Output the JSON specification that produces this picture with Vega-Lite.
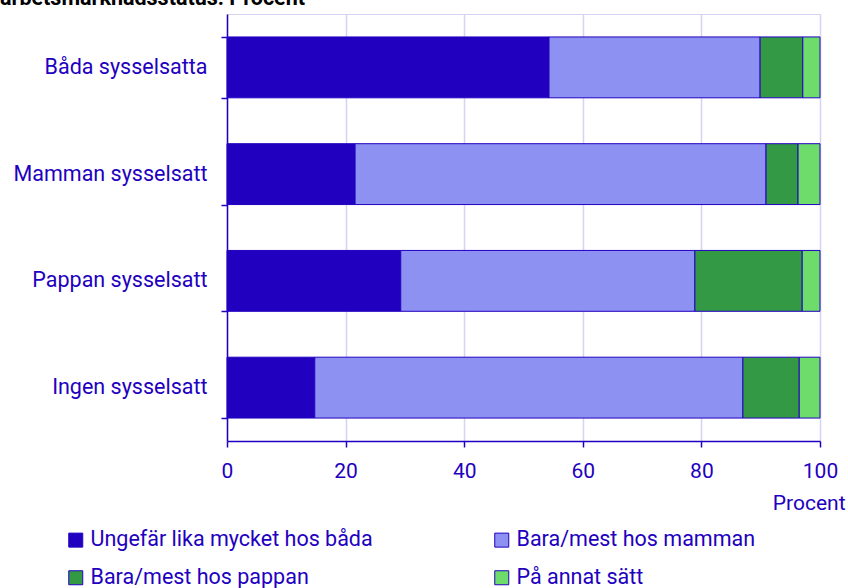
{
  "$schema": "https://vega.github.io/schema/vega-lite/v6.json",
  "width": 593,
  "height": 427,
  "autosize": {"type": "none"},
  "padding": {"left": 227, "top": 14, "right": 28, "bottom": 147},
  "background": "white",
  "config": {"font": "Roboto", "view": {"stroke": "#d4d4f2"}},
  "title": {"text": "arbetsmarknadsstatus. Procent", "anchor": "start", "frame": "group", "fontSize": 21.5, "fontWeight": "bold", "color": "#000000", "dx": -227, "dy": 23, "baseline": "alphabetic", "offset": 0, "font": "Roboto"},
  "data": {"values": [
    {"grupp": "Båda sysselsatta", "kategori": "Ungefär lika mycket hos båda", "ordning": 1, "andel": 54.3},
    {"grupp": "Båda sysselsatta", "kategori": "Bara/mest hos mamman", "ordning": 2, "andel": 35.6},
    {"grupp": "Båda sysselsatta", "kategori": "Bara/mest hos pappan", "ordning": 3, "andel": 7.2},
    {"grupp": "Båda sysselsatta", "kategori": "På annat sätt", "ordning": 4, "andel": 2.9},
    {"grupp": "Mamman sysselsatt", "kategori": "Ungefär lika mycket hos båda", "ordning": 1, "andel": 21.6},
    {"grupp": "Mamman sysselsatt", "kategori": "Bara/mest hos mamman", "ordning": 2, "andel": 69.3},
    {"grupp": "Mamman sysselsatt", "kategori": "Bara/mest hos pappan", "ordning": 3, "andel": 5.4},
    {"grupp": "Mamman sysselsatt", "kategori": "På annat sätt", "ordning": 4, "andel": 3.7},
    {"grupp": "Pappan sysselsatt", "kategori": "Ungefär lika mycket hos båda", "ordning": 1, "andel": 29.3},
    {"grupp": "Pappan sysselsatt", "kategori": "Bara/mest hos mamman", "ordning": 2, "andel": 49.6},
    {"grupp": "Pappan sysselsatt", "kategori": "Bara/mest hos pappan", "ordning": 3, "andel": 18.1},
    {"grupp": "Pappan sysselsatt", "kategori": "På annat sätt", "ordning": 4, "andel": 3.0},
    {"grupp": "Ingen sysselsatt", "kategori": "Ungefär lika mycket hos båda", "ordning": 1, "andel": 14.8},
    {"grupp": "Ingen sysselsatt", "kategori": "Bara/mest hos mamman", "ordning": 2, "andel": 72.2},
    {"grupp": "Ingen sysselsatt", "kategori": "Bara/mest hos pappan", "ordning": 3, "andel": 9.5},
    {"grupp": "Ingen sysselsatt", "kategori": "På annat sätt", "ordning": 4, "andel": 3.5}
  ]},
  "mark": {"type": "bar", "stroke": "#2200c0", "strokeWidth": 1},
  "encoding": {
    "y": {
      "field": "grupp", "type": "nominal",
      "sort": ["Båda sysselsatta", "Mamman sysselsatt", "Pappan sysselsatt", "Ingen sysselsatt"],
      "scale": {"paddingInner": 0.43, "paddingOuter": 0.215},
      "axis": {"title": null, "domainColor": "#2200c0", "domainWidth": 1.5, "tickColor": "#2200c0", "tickWidth": 1.5, "tickSize": 6, "tickBand": "extent", "labelColor": "#2200c0", "labelFontSize": 21.5, "labelPadding": 14, "grid": false, "labelLimit": 300}
    },
    "x": {
      "field": "andel", "type": "quantitative", "stack": "zero",
      "scale": {"domain": [0, 100]},
      "axis": {"title": "Procent", "values": [0, 20, 40, 60, 80, 100], "grid": true, "gridColor": "#d4d4f2", "gridWidth": 1.5, "domainColor": "#2200c0", "domainWidth": 1.5, "tickColor": "#2200c0", "tickWidth": 1.5, "tickSize": 6, "labelColor": "#2200c0", "labelFontSize": 21, "labelPadding": 13, "labelFlush": false, "titleColor": "#2200c0", "titleFontSize": 21, "titleFontWeight": "normal", "titleX": 618, "titleY": 62, "titleAlign": "right", "titleBaseline": "middle", "titleAnchor": "end"}
    },
    "color": {
      "field": "kategori", "type": "nominal",
      "scale": {"domain": ["Ungefär lika mycket hos båda", "Bara/mest hos mamman", "Bara/mest hos pappan", "På annat sätt"], "range": ["#2200c0", "#8c91f2", "#339944", "#6edc6a"]},
      "legend": {"orient": "none", "legendX": -162, "legendY": 515, "direction": "horizontal", "columns": 2, "title": null, "symbolType": "square", "symbolSize": 196, "symbolStrokeColor": "#2200c0", "symbolStrokeWidth": 1, "symbolOpacity": 1, "labelFontSize": 21.5, "labelColor": "#2200c0", "labelOffset": 4, "labelLimit": 400, "rowPadding": 15, "columnPadding": 118}
    },
    "order": {"field": "ordning", "type": "quantitative"}
  }
}
